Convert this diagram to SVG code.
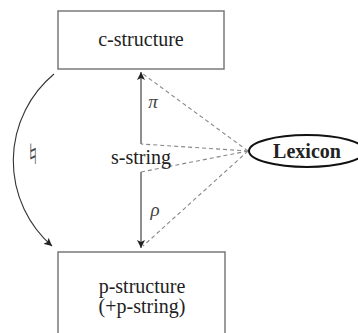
<svg xmlns="http://www.w3.org/2000/svg" width="358" height="333" viewBox="0 0 358 333">
<defs>
<marker id="arr" viewBox="0 0 10 10" refX="10" refY="5" markerWidth="8" markerHeight="8" markerUnits="userSpaceOnUse" orient="auto">
<path d="M0,0 L10,5 L0,10 L2.5,5 Z" fill="#222"/>
</marker>
<style>
.box{fill:#fff;stroke:#7a7a7a;stroke-width:1.5}
.t{font-size:20px;fill:#222;text-anchor:middle}
.g{font-size:19px;font-style:italic;fill:#444;text-anchor:middle}
.solid{fill:none;stroke:#333;stroke-width:1.1}
.dash{fill:none;stroke:#888;stroke-width:1.1;stroke-dasharray:4,3}
</style>
</defs>
<rect width="358" height="333" fill="#fff"/>
<g id="connectors">
<path class="solid" d="M54,74 A113,113 0 0 0 52,246" marker-end="url(#arr)"/>
<line class="solid" x1="141" y1="144" x2="141" y2="72" marker-end="url(#arr)"/>
<line class="solid" x1="141" y1="172" x2="141" y2="248" marker-end="url(#arr)"/>
<line class="dash" x1="248" y1="151" x2="143" y2="74"/>
<line class="dash" x1="248" y1="151" x2="141" y2="144"/>
<line class="dash" x1="248" y1="151" x2="141" y2="172"/>
<line class="dash" x1="248" y1="151" x2="143" y2="246"/>
<text class="g" font-family="Liberation Serif, DejaVu Serif, serif" x="153" y="108">π</text>
<text class="g" font-family="Liberation Serif, DejaVu Serif, serif" x="155" y="216">ρ</text>
<text x="33" y="164" font-family="DejaVu Sans, DejaVu Serif, sans-serif" font-size="28" fill="#444" text-anchor="middle">♮</text>
</g>
<g id="c-structure">
<rect class="box" x="58" y="11" width="166" height="58"/>
<text class="t" font-family="Liberation Serif, DejaVu Serif, serif" x="141" y="46">c-structure</text>
</g>
<g id="s-string">
<text class="t" font-family="Liberation Serif, DejaVu Serif, serif" x="141" y="164">s-string</text>
</g>
<g id="p-structure">
<rect class="box" x="58" y="252" width="167" height="90"/>
<text class="t" font-family="Liberation Serif, DejaVu Serif, serif" x="142" y="293">p-structure</text>
<text class="t" font-family="Liberation Serif, DejaVu Serif, serif" x="142" y="313">(+p-string)</text>
</g>
<g id="lexicon">
<ellipse cx="307" cy="151" rx="58" ry="16" fill="#fff" stroke="#111" stroke-width="2"/>
<text class="t" font-family="Liberation Serif, DejaVu Serif, serif" x="307" y="158" font-weight="bold" fill="#111">Lexicon</text>
</g>
</svg>
